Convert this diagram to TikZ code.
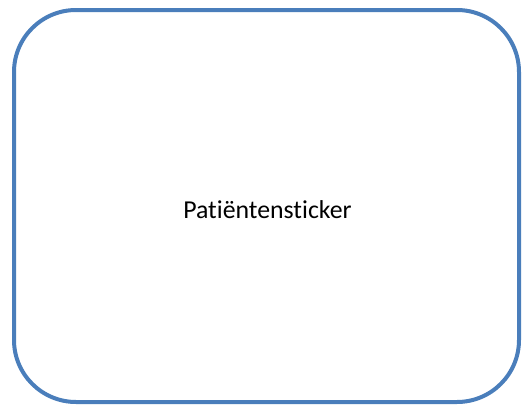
\documentclass[tikz,border=0pt]{standalone}
\usepackage{fontspec}
\setmainfont[Ligatures=NoCommon]{Carlito}
\definecolor{boxblue}{HTML}{4A7EBB}
\begin{document}
\begin{tikzpicture}[x=1pt,y=-1pt,
  stickerbox/.style={draw=boxblue,line width=4pt,rounded corners=62pt},
  label/.style={font=\fontsize{25.8}{30}\selectfont,text=black}]
\useasboundingbox (0,0) rectangle (523,410);
\draw[stickerbox] (14,10) rectangle (519,402);
\node[label] (t) at (267.5,210) {Patiëntensticker};
\end{tikzpicture}
\end{document}
